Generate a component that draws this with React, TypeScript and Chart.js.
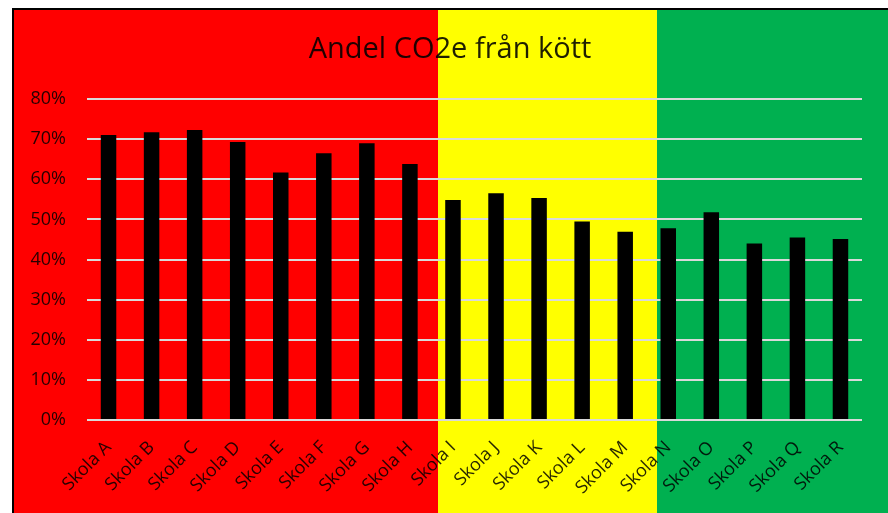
import React, { useEffect, useRef } from "react";
import { Chart, registerables } from "chart.js";

Chart.register(...registerables);

const categories = [
  "Skola A", "Skola B", "Skola C", "Skola D", "Skola E", "Skola F", "Skola G", "Skola H", "Skola I",
  "Skola J", "Skola K", "Skola L", "Skola M", "Skola N", "Skola O", "Skola P", "Skola Q", "Skola R",
];
const shareValues = [
  0.710, 0.717, 0.723, 0.693, 0.617, 0.665, 0.690, 0.638, 0.548,
  0.565, 0.553, 0.495, 0.469, 0.478, 0.518, 0.440, 0.455, 0.451,
];
const yTickValues = [0, 0.1, 0.2, 0.3, 0.4, 0.5, 0.6, 0.7, 0.8];
const titleText = "Andel CO2e från kött";

const W = 888;
const H = 513;
const FONT = "'Open Sans', 'Noto Sans', sans-serif";

const backgroundPlugin = {
  id: "zones",
  beforeDraw(chart: any) {
    const ctx = chart.ctx;
    ctx.save();
    ctx.fillStyle = "#ffffff";
    ctx.fillRect(0, 0, W, H);
    ctx.fillStyle = "#000000";
    ctx.fillRect(12, 8, W - 12, H - 8);
    ctx.fillStyle = "#ff0000";
    ctx.fillRect(14, 10, 438 - 14, H - 10);
    ctx.fillStyle = "#ffff00";
    ctx.fillRect(438, 10, 657 - 438, H - 10);
    ctx.fillStyle = "#00b050";
    ctx.fillRect(657, 10, W - 657, H - 10);
    ctx.fillStyle = "rgba(0,0,0,0.88)";
    ctx.font = `29px ${FONT}`;
    ctx.textAlign = "center";
    ctx.textBaseline = "alphabetic";
    ctx.fillText(titleText, 450, 58);
    ctx.restore();
  },
};

export default function App() {
  const ref = useRef<HTMLCanvasElement | null>(null);
  useEffect(() => {
    if (!ref.current) return;
    const chart = new Chart(ref.current, {
      type: "bar",
      data: {
        labels: categories,
        datasets: [
          {
            data: shareValues,
            backgroundColor: "#000000",
            borderWidth: 0,
            categoryPercentage: 1,
            barPercentage: 0.36,
          },
        ],
      },
      options: {
        responsive: false,
        animation: false,
        layout: { padding: { top: 99, right: 26, left: 0, bottom: 0 } },
        plugins: { legend: { display: false }, title: { display: false }, tooltip: { enabled: false } },
        scales: {
          x: {
            grid: { display: false },
            border: { display: false },
            ticks: {
              color: "rgba(0,0,0,0.85)",
              font: { family: FONT, size: 18 },
              minRotation: 45,
              maxRotation: 45,
              padding: 9,
              autoSkip: false,
            },
            afterFit(scale: any) {
              scale.height = 93;
            },
          },
          y: {
            min: 0,
            max: 0.8,
            afterBuildTicks(scale: any) {
              scale.ticks = yTickValues.map((v) => ({ value: v }));
            },
            grid: { color: "#d9d9d9", lineWidth: 2, drawTicks: false },
            border: { display: false },
            ticks: {
              color: "rgba(0,0,0,0.85)",
              font: { family: FONT, size: 18 },
              padding: 21,
              callback: (v: any) => `${Math.round(Number(v) * 100)}%`,
            },
            afterFit(scale: any) {
              scale.width = 87;
            },
          },
        },
      },
      plugins: [backgroundPlugin],
    });
    return () => chart.destroy();
  }, []);
  return (
    <div style={{ position: "absolute", left: 0, top: 0, width: W, height: H }}>
      <canvas ref={ref} width={W} height={H} style={{ display: "block", width: W, height: H }} />
    </div>
  );
}
